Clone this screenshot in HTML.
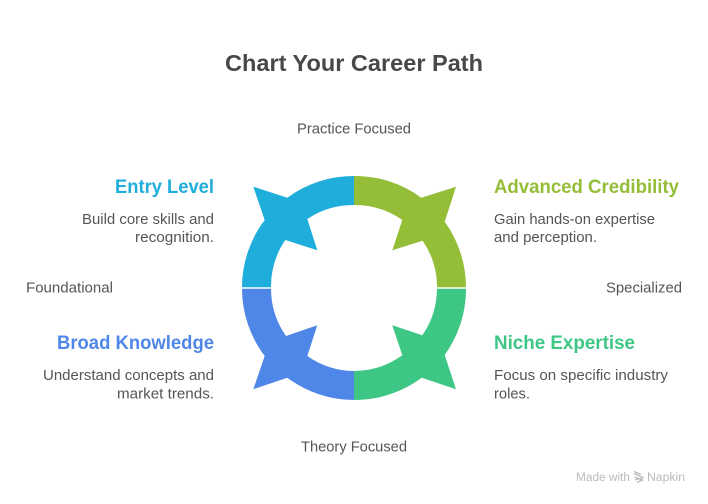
<!DOCTYPE html>
<html><head><meta charset="utf-8"><style>
html,body{margin:0;padding:0;background:#fff}
svg{display:block}
text{font-family:"Liberation Sans",sans-serif;fill:#555}
.h{font-weight:700;font-size:19px}
.b{font-size:14.7px}
</style></head><body>
<svg width="708" height="504" viewBox="0 0 708 504" xmlns="http://www.w3.org/2000/svg">
<rect width="708" height="504" fill="#fff"/>
<text x="225" y="71" font-size="23.5" font-weight="700" textLength="258" lengthAdjust="spacingAndGlyphs" style="fill:#484848">Chart Your Career Path</text>
<text class="b" x="297" y="133.500" textLength="114" lengthAdjust="spacingAndGlyphs">Practice Focused</text>
<text class="b" x="301" y="451.500" textLength="106" lengthAdjust="spacingAndGlyphs">Theory Focused</text>
<text class="b" x="26" y="292.500" textLength="87" lengthAdjust="spacingAndGlyphs">Foundational</text>
<text class="b" x="606" y="292.500" textLength="76" lengthAdjust="spacingAndGlyphs">Specialized</text>

<path fill="#1FADDC" d="M242 287.3A112 112 0 0 1 264.7 220L253.3 186.7L287.3 197.7A112 112 0 0 1 354 176V205A83 83 0 0 0 307.3 219L317.3 250.3L285.3 240A83 83 0 0 0 271 287.3Z"/>
<path fill="#94BD38" d="M354 176A112 112 0 0 1 421.3 197.7L456 186.7L444.7 221.7A112 112 0 0 1 466 287.3H437A83 83 0 0 0 422.7 240.7L392.3 250.3L402.3 220A83 83 0 0 0 354 205Z"/>
<path fill="#4F87E8" d="M242 288.7H271A83 83 0 0 0 286 336L317.3 325.3L307.3 356A83 83 0 0 0 354 371V400A112 112 0 0 1 287.3 377.7L253.3 389.3L264.7 356A112 112 0 0 1 242 288.7Z"/>
<path fill="#3EC685" d="M466 288.7A112 112 0 0 1 444.7 355L456 389.3L421.7 377.7A112 112 0 0 1 354 400V371A83 83 0 0 0 402.3 355.3L392.3 325.3L422.3 335.3A83 83 0 0 0 437 288.7Z"/>

<text class="h" x="115" y="193" textLength="99" lengthAdjust="spacingAndGlyphs" style="fill:#1FADDC">Entry Level</text>
<text class="b" x="82" y="224" textLength="132" lengthAdjust="spacingAndGlyphs">Build core skills and</text>
<text class="b" x="135" y="242" textLength="79" lengthAdjust="spacingAndGlyphs">recognition.</text>

<text class="h" x="494" y="193" textLength="185" lengthAdjust="spacingAndGlyphs" style="fill:#94BD38">Advanced Credibility</text>
<text class="b" x="494" y="224" textLength="161" lengthAdjust="spacingAndGlyphs">Gain hands-on expertise</text>
<text class="b" x="494" y="242" textLength="103" lengthAdjust="spacingAndGlyphs">and perception.</text>

<text class="h" x="57" y="349" textLength="157" lengthAdjust="spacingAndGlyphs" style="fill:#4F87E8">Broad Knowledge</text>
<text class="b" x="43" y="380" textLength="171" lengthAdjust="spacingAndGlyphs">Understand concepts and</text>
<text class="b" x="117" y="398.500" textLength="97" lengthAdjust="spacingAndGlyphs">market trends.</text>

<text class="h" x="494" y="349" textLength="141" lengthAdjust="spacingAndGlyphs" style="fill:#3EC685">Niche Expertise</text>
<text class="b" x="494" y="380" textLength="174" lengthAdjust="spacingAndGlyphs">Focus on specific industry</text>
<text class="b" x="494" y="398.500" textLength="36" lengthAdjust="spacingAndGlyphs">roles.</text>

<text x="576" y="481" font-size="11.5" textLength="54" lengthAdjust="spacingAndGlyphs" style="fill:#bbb">Made with</text>
<path d="M634 471.500L641 474.500M634 473.500L643 477.500L635 480M635 477L642.500 480L637 482.500" fill="none" stroke="#bbb" stroke-width="1.300"/>
<text x="647" y="481" font-size="11.5" textLength="38" lengthAdjust="spacingAndGlyphs" style="fill:#bbb">Napkin</text>
</svg>
</body></html>
